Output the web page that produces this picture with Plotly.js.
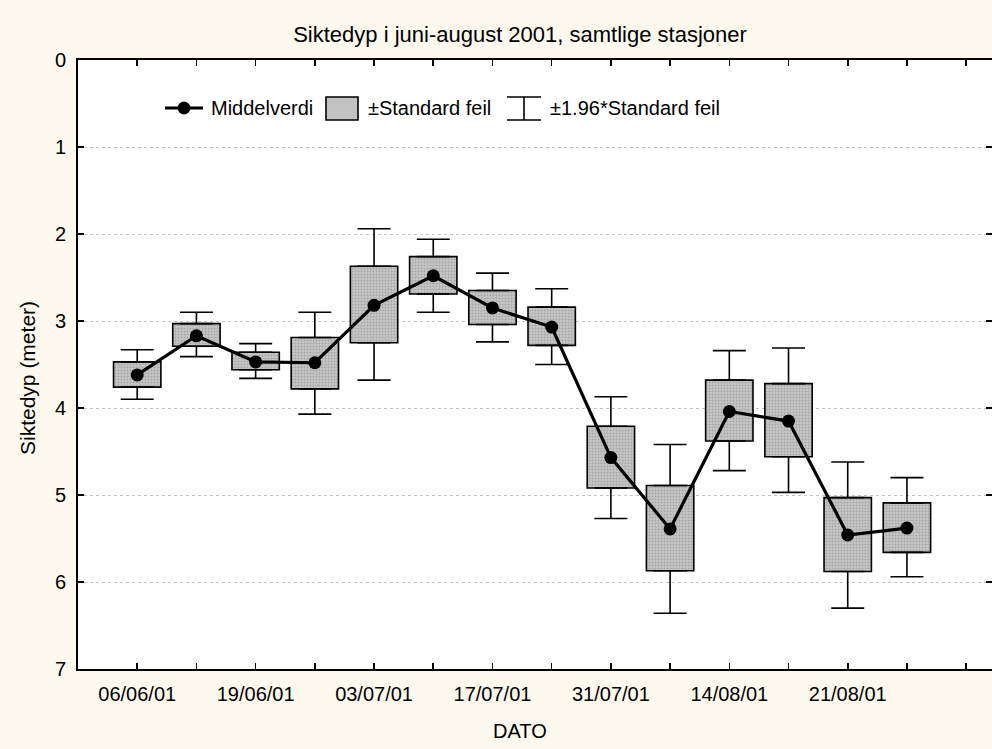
<!DOCTYPE html>
<html>
<head>
<meta charset="utf-8">
<script src="https://cdn.plot.ly/plotly-3.0.1.min.js"></script>
<style>
  html, body { margin: 0; padding: 0; background: #fdf9ee; }
  #chart { width: 992px; height: 749px; }
</style>
</head>
<body>
<div id="chart"></div>
<script>
// Category positions (sampling occasions) and tick labels
const positions = [1, 2, 3, 4, 5, 6, 7, 8, 9, 10, 11, 12, 13, 14];
const tickPositions = [1, 2, 3, 4, 5, 6, 7, 8, 9, 10, 11, 12, 13, 14, 15];
const tickLabels = ['06/06/01', '', '19/06/01', '', '03/07/01', '', '17/07/01', '', '31/07/01', '', '14/08/01', '', '21/08/01', '', ''];

// Secchi depth (m): mean, ±SE box edges, ±1.96*SE whisker ends
const meanDepth     = [3.62, 3.17, 3.47, 3.48, 2.82, 2.48, 2.85, 3.07, 4.57, 5.39, 4.04, 4.15, 5.46, 5.38];
const seUpper       = [3.47, 3.03, 3.36, 3.19, 2.37, 2.26, 2.65, 2.84, 4.21, 4.89, 3.68, 3.72, 5.03, 5.09];
const seLower       = [3.76, 3.29, 3.56, 3.78, 3.25, 2.69, 3.04, 3.28, 4.92, 5.87, 4.38, 4.56, 5.88, 5.66];
const ciUpper       = [3.33, 2.90, 3.26, 2.90, 1.94, 2.06, 2.45, 2.63, 3.87, 4.42, 3.34, 3.31, 4.62, 4.80];
const ciLower       = [3.90, 3.41, 3.66, 4.07, 3.68, 2.90, 3.24, 3.50, 5.27, 6.36, 4.72, 4.97, 6.30, 5.94];

const FONT = '"Liberation Sans", Arial, sans-serif';

// Plot area geometry (pixels) used for the hand-built legend
const L = 78, T = 60, W = 914, H = 609;
const px = x => (x - L) / W;
const py = y => (T + H - y) / H;

const boxTrace = {
  type: 'bar',
  x: positions,
  base: seUpper,
  y: seLower.map((v, i) => v - seUpper[i]),
  width: 0.8,
  marker: {
    color: '#c2c2c2',
    line: { color: '#000', width: 1.6 },
    pattern: { shape: '.', fgcolor: '#a6a6a6', bgcolor: '#c8c8c8', size: 3, solidity: 0.4 }
  },
  showlegend: false,
  hoverinfo: 'skip'
};

const whiskerUp = {
  type: 'scatter', mode: 'none',
  x: positions, y: seUpper,
  error_y: { type: 'data', symmetric: false,
    arrayminus: seUpper.map((v, i) => v - ciUpper[i]),
    array: positions.map(() => 0),
    color: '#000', thickness: 1.6, width: 16.5 },
  showlegend: false, hoverinfo: 'skip'
};

const whiskerDown = {
  type: 'scatter', mode: 'none',
  x: positions, y: seLower,
  error_y: { type: 'data', symmetric: false,
    array: ciLower.map((v, i) => v - seLower[i]),
    arrayminus: positions.map(() => 0),
    color: '#000', thickness: 1.6, width: 16.5 },
  showlegend: false, hoverinfo: 'skip'
};

const meanTrace = {
  type: 'scatter', mode: 'lines+markers',
  x: positions, y: meanDepth,
  line: { color: '#000', width: 3.2 },
  marker: { color: '#000', size: 13 },
  name: 'Middelverdi',
  showlegend: false
};

// Hand-built legend (line+marker, box swatch, whisker symbol)
const legY = 108;
const shapes = [
  { type: 'line', xref: 'paper', yref: 'paper', x0: px(165), x1: px(203), y0: py(legY), y1: py(legY), line: { color: '#000', width: 3.2 } },
  { type: 'circle', xref: 'paper', yref: 'paper', x0: px(184 - 6.5), x1: px(184 + 6.5), y0: py(legY - 6.5), y1: py(legY + 6.5), fillcolor: '#000', line: { color: '#000', width: 0 } },
  { type: 'rect', xref: 'paper', yref: 'paper', x0: px(326), x1: px(358), y0: py(97), y1: py(120), fillcolor: '#c2c2c2', line: { color: '#000', width: 1.6 } },
  { type: 'line', xref: 'paper', yref: 'paper', x0: px(507), x1: px(541), y0: py(97), y1: py(97), line: { color: '#000', width: 1.6 } },
  { type: 'line', xref: 'paper', yref: 'paper', x0: px(507), x1: px(541), y0: py(120), y1: py(120), line: { color: '#000', width: 1.6 } },
  { type: 'line', xref: 'paper', yref: 'paper', x0: px(524), x1: px(524), y0: py(97), y1: py(120), line: { color: '#000', width: 1.6 } }
];

const legText = (x, text) => ({
  xref: 'paper', yref: 'paper', x: px(x), y: py(legY), xanchor: 'left', yanchor: 'middle',
  text: text, showarrow: false, font: { family: FONT, size: 20, color: '#000' }
});

const annotations = [
  legText(209, 'Middelverdi'),
  legText(366, '±Standard feil'),
  legText(548, '±1.96*Standard feil'),
  { xref: 'paper', yref: 'paper', x: px(520), y: py(731), xanchor: 'center', yanchor: 'middle',
    text: 'DATO', showarrow: false, font: { family: FONT, size: 20, color: '#000' } },
  { xref: 'paper', yref: 'paper', x: px(27), y: py(378), xanchor: 'center', yanchor: 'middle',
    textangle: -90, text: 'Siktedyp (meter)', showarrow: false, font: { family: FONT, size: 21, color: '#000' } }
];

const layout = {
  width: 992, height: 749,
  paper_bgcolor: '#fdf9ee',
  plot_bgcolor: '#ffffff',
  margin: { l: L, r: 992 - L - W, t: T, b: 749 - T - H, pad: 0 },
  font: { family: FONT, size: 20, color: '#000' },
  title: {
    text: 'Siktedyp i juni-august 2001, samtlige stasjoner',
    font: { family: FONT, size: 22, color: '#000' },
    x: 520 / 992, xref: 'container', xanchor: 'center',
    y: 1 - 34 / 749, yref: 'container', yanchor: 'middle'
  },
  xaxis: {
    range: [0, W / 59.21],
    tickmode: 'array', tickvals: tickPositions, ticktext: tickLabels,
    ticks: 'inside', ticklen: 6, tickwidth: 1.6, tickcolor: '#000',
    showline: true, linecolor: '#000', linewidth: 2, mirror: 'ticks',
    showgrid: false, zeroline: false,
    tickfont: { family: FONT, size: 20, color: '#000' },
    ticklabelstandoff: 6
  },
  yaxis: {
    range: [7, 0],
    tickmode: 'linear', tick0: 0, dtick: 1,
    ticks: 'inside', ticklen: 6, tickwidth: 1.6, tickcolor: '#000',
    showline: true, linecolor: '#000', linewidth: 2, mirror: 'ticks',
    showgrid: true, gridcolor: '#c4c4c4', gridwidth: 1, griddash: 'dot',
    zeroline: false,
    tickfont: { family: FONT, size: 20, color: '#000' },
    ticklabelstandoff: 6
  },
  bargap: 0.2,
  shapes: shapes,
  annotations: annotations,
  showlegend: false
};

Plotly.newPlot('chart', [boxTrace, whiskerUp, whiskerDown, meanTrace], layout, { displayModeBar: false, staticPlot: true });
</script>
</body>
</html>
